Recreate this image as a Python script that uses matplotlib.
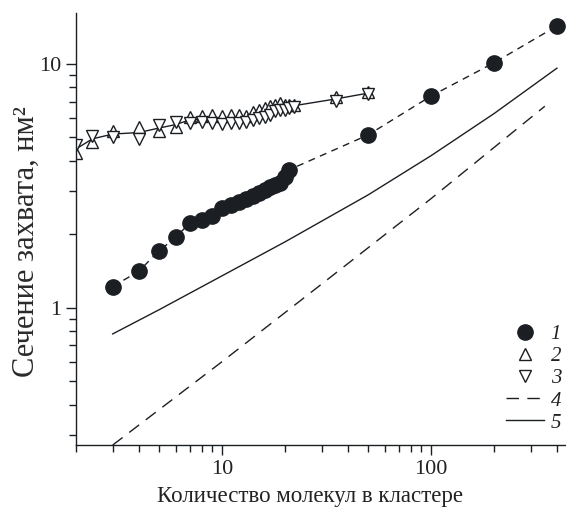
import matplotlib
matplotlib.use("Agg")
import matplotlib.pyplot as plt
from matplotlib.ticker import LogLocator, NullFormatter, FixedLocator, FixedFormatter

plt.rcParams['font.family'] = ['Liberation Serif', 'DejaVu Serif']

# серия 1 - эксперимент (чёрные точки)
n1 = [3, 4, 5, 6, 7, 8, 9, 10, 11, 12, 13, 14, 15, 16, 17, 18, 19, 20, 21, 50, 100, 200, 400]
s1 = [1.22, 1.41, 1.71, 1.94, 2.22, 2.28, 2.37, 2.57, 2.64, 2.72, 2.80, 2.88, 2.96, 3.05,
      3.12, 3.17, 3.25, 3.45, 3.68, 5.11, 7.38, 10.1, 14.3]

# серии 2 и 3 - треугольники
n23 = [2, 2.4, 3, 4, 5, 6, 7, 8, 9, 10, 11, 12, 13, 14, 15, 16, 17, 18, 19, 20, 21, 22, 35, 50]
s2 = [4.31, 4.79, 5.32, 5.53, 5.32, 5.50, 6.06, 6.10, 6.15, 6.10, 6.15, 6.15, 6.13, 6.33,
      6.49, 6.60, 6.70, 6.81, 6.92, 6.81, 6.81, 6.81, 7.33, 7.67]
s3 = [4.64, 5.06, 4.99, 4.94, 5.59, 5.77, 5.72, 5.75, 5.71, 5.68, 5.71, 5.71, 5.80, 5.90,
      5.99, 6.05, 6.19, 6.39, 6.49, 6.49, 6.60, 6.65, 7.03, 7.50]

# кривая 4 (штрих) и кривая 5 (сплошная)
n4 = [3, 10, 30, 100, 350]
s4 = [0.273, 0.60, 1.25, 2.80, 6.70]
n5 = [3, 5, 10, 20, 50, 100, 200, 400]
s5 = [0.78, 0.98, 1.35, 1.86, 2.90, 4.20, 6.25, 9.60]

fig = plt.figure(figsize=(5.66, 5.11), dpi=100)
ax = fig.add_axes([0.134, 0.129, 0.866, 0.846])

dark = '#1b1f23'
line23 = [(a * b) ** 0.5 for a, b in zip(s2, s3)]
ax.plot(n23, line23, '-', c=dark, lw=1.0)
ax.plot(n1, s1, '--', c=dark, lw=1.0, dashes=(5, 4))
ax.plot(n1, s1, 'o', c=dark, ms=11, label='1')
ax.plot(n23, s2, '^', mfc='white', mec=dark, mew=1.0, ms=9, ls='none', label='2')
ax.plot(n23, s3, 'v', mfc='white', mec=dark, mew=1.0, ms=9, ls='none', label='3')
ax.plot(n4, s4, '--', c=dark, lw=1.0, dashes=(9, 6), label='4')
ax.plot(n5, s5, '-', c=dark, lw=1.0, label='5')

ax.set_xscale('log')
ax.set_yscale('log')
ax.set_xlim(2, 442)
ax.set_ylim(0.273, 16.2)

ax.spines['top'].set_visible(False)
ax.spines['right'].set_visible(False)
for sp in ('left', 'bottom'):
    ax.spines[sp].set_color(dark)
    ax.spines[sp].set_linewidth(1.0)

ax.xaxis.set_major_locator(FixedLocator([10, 100]))
ax.xaxis.set_major_formatter(FixedFormatter(['10', '100']))
ax.yaxis.set_major_locator(FixedLocator([1, 10]))
ax.yaxis.set_major_formatter(FixedFormatter(['1', '10']))
ax.xaxis.set_minor_locator(LogLocator(base=10, subs=range(2, 10)))
ax.yaxis.set_minor_locator(LogLocator(base=10, subs=range(2, 10)))
ax.xaxis.set_minor_formatter(NullFormatter())
ax.yaxis.set_minor_formatter(NullFormatter())
ax.tick_params(which='major', length=7, width=1, colors=dark, labelsize=16, labelcolor='#222222')
ax.tick_params(which='minor', length=5, width=1, colors=dark)

ax.set_xlabel('Количество молекул в кластере', fontsize=16.5, color='#222222')
ax.xaxis.set_label_coords(0.478, -0.094)
ax.set_ylabel('Сечение захвата, нм²', fontsize=22, color='#2a2a2a')
ax.yaxis.set_label_coords(-0.072, 0.47)

leg = ax.legend(loc='lower right', bbox_to_anchor=(1.01, 68 / 511), bbox_transform=fig.transFigure,
                frameon=False, handlelength=1.85, handletextpad=0.3, labelspacing=0.12,
                borderpad=0.0, prop={'family': 'Liberation Serif', 'style': 'italic', 'size': 15})
for t in leg.get_texts():
    t.set_color('#222222')

fig.savefig('out.png', dpi=100)
